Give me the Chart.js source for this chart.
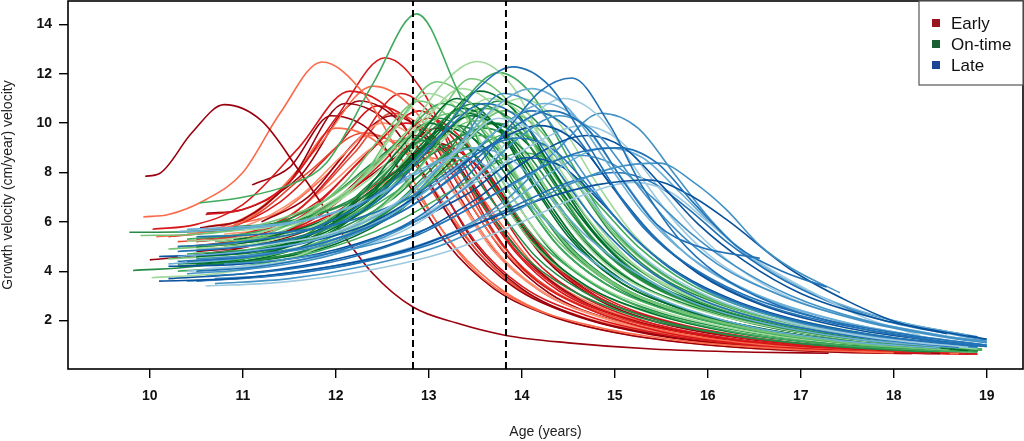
<!DOCTYPE html>
<html>
<head>
<meta charset="utf-8">
<script src="https://cdn.jsdelivr.net/npm/chart.js@4.4.1/dist/chart.umd.min.js"></script>
<style>
  html, body { margin: 0; padding: 0; background: #fff; }
  canvas { display: block; }
</style>
</head>
<body>
<canvas id="graph_ID" width="1024" height="441"></canvas>
<script>
// axis ticks and reference ages
var xTicks = [10, 11, 12, 13, 14, 15, 16, 17, 18, 19];
var yTicks = [2, 4, 6, 8, 10, 12, 14];
var dashedAges = [12.83, 13.83];
var legendLabels = ['Early', 'On-time', 'Late'];

// growth velocity curves, [age, velocity]
var earlyCurves = [
  [[9.95,7.85],[10.1,7.95],[10.45,9.6],[10.8,10.75],[11.2,10.1],[11.6,8.1],[12.0,5.9],[12.4,3.9],[12.83,2.55],[13.3,1.9],[13.83,1.4],[14.5,1.1],[15.4,0.85],[16.5,0.72],[17.3,0.68]],
  [[9.93,6.2],[10.2,6.3],[10.6,6.9],[11.0,8.0],[11.4,10.4],[11.85,12.48],[12.3,11.2],[12.7,8.6],[13.1,5.9],[13.5,4.0],[14.0,2.7],[14.8,1.75],[15.8,1.15],[17.0,0.82],[18.0,0.7]],
  [[10.6,6.3],[11.0,6.5],[11.5,7.6],[12.0,10.2],[12.53,12.65],[12.95,11.2],[13.3,8.4],[13.7,5.6],[14.1,3.8],[14.7,2.5],[15.5,1.55],[16.5,1.0],[17.5,0.78],[18.4,0.68]],
  [[10.54,5.76],[11.0,6.1],[11.5,7.6],[12.1,10.8],[12.6,9.9],[13.0,7.6],[13.4,5.2],[13.9,3.4],[14.5,2.3],[15.3,1.5],[16.3,1.0],[17.5,0.75],[18.5,0.67]],
  [[10.03,5.7],[10.5,5.9],[11.0,6.7],[11.6,9.0],[12.15,11.3],[12.65,10.3],[13.05,7.9],[13.5,5.2],[14.0,3.4],[14.7,2.2],[15.6,1.4],[16.6,0.95],[17.8,0.72],[18.6,0.66]],
  [[10.07,5.4],[10.6,5.6],[11.2,6.6],[11.8,9.0],[12.4,11.5],[12.85,10.5],[13.25,8.0],[13.7,5.3],[14.2,3.5],[14.9,2.2],[15.8,1.4],[16.9,0.92],[18.0,0.72],[18.7,0.66]],
  [[11.1,7.5],[11.5,8.2],[11.95,10.3],[12.4,9.6],[12.8,7.4],[13.2,5.1],[13.7,3.3],[14.3,2.2],[15.1,1.45],[16.2,0.95],[17.4,0.72],[18.2,0.67]],
  [[10.61,6.35],[11.0,6.5],[11.6,7.8],[12.25,10.9],[12.7,10.0],[13.1,7.6],[13.5,5.1],[14.0,3.3],[14.6,2.2],[15.5,1.4],[16.5,0.95],[17.6,0.74],[18.4,0.67]],
  [[10.5,5.3],[11.0,5.5],[11.6,6.5],[12.2,9.0],[12.7,11.2],[13.1,10.0],[13.5,7.4],[13.9,5.0],[14.4,3.3],[15.1,2.1],[16.0,1.35],[17.0,0.92],[18.0,0.72],[18.8,0.66]],
  [[10.5,5.6],[11.0,6.0],[11.5,7.6],[12.0,9.8],[12.45,9.2],[12.9,7.0],[13.3,4.9],[13.8,3.2],[14.4,2.1],[15.2,1.4],[16.3,0.92],[17.5,0.72],[18.2,0.67]],
  [[10.5,5.2],[11.1,5.5],[11.8,6.8],[12.4,9.0],[12.9,10.5],[13.3,9.2],[13.7,6.8],[14.1,4.6],[14.6,3.1],[15.3,2.0],[16.2,1.3],[17.3,0.88],[18.3,0.7],[18.9,0.65]],
  [[10.0,4.46],[10.6,4.7],[11.3,5.3],[12.0,6.9],[12.5,8.6],[12.85,9.5],[13.25,8.6],[13.65,6.4],[14.1,4.3],[14.6,2.9],[15.3,1.9],[16.3,1.2],[17.4,0.85],[18.5,0.68]],
  [[10.6,5.0],[11.2,5.3],[11.8,6.2],[12.5,8.4],[13.0,10.2],[13.4,9.2],[13.8,7.0],[14.2,4.8],[14.7,3.2],[15.4,2.1],[16.3,1.35],[17.4,0.9],[18.4,0.7],[18.9,0.65]],
  [[10.8,5.5],[11.3,5.8],[11.9,7.4],[12.6,9.3],[13.0,8.6],[13.4,6.5],[13.8,4.5],[14.3,3.0],[15.0,1.95],[15.9,1.3],[17.0,0.88],[18.0,0.7]],
  [[10.6,5.8],[11.1,6.2],[11.7,8.0],[12.3,9.6],[12.75,8.8],[13.15,6.6],[13.6,4.5],[14.1,3.0],[14.8,1.95],[15.7,1.3],[16.8,0.88],[17.9,0.7],[18.5,0.66]],
  [[10.8,5.4],[11.4,5.8],[12.0,6.9],[12.6,8.5],[13.1,9.8],[13.5,8.7],[13.9,6.5],[14.3,4.5],[14.8,3.0],[15.5,2.0],[16.4,1.3],[17.5,0.88],[18.5,0.7]],
  [[10.7,5.1],[11.3,5.4],[12.0,6.4],[12.7,8.2],[13.2,9.0],[13.6,8.0],[14.0,6.0],[14.4,4.2],[14.9,2.9],[15.6,1.95],[16.5,1.3],[17.6,0.88],[18.6,0.68]],
  [[10.4,5.5],[11.0,5.8],[11.6,7.0],[12.1,8.8],[12.5,10.0],[12.9,9.2],[13.3,7.0],[13.7,4.8],[14.2,3.2],[14.9,2.1],[15.8,1.4],[16.9,0.92],[18.0,0.72]],
  [[10.3,5.2],[10.9,5.4],[11.6,6.5],[12.2,8.8],[12.6,10.4],[13.0,9.6],[13.4,7.3],[13.8,5.0],[14.3,3.3],[15.0,2.15],[15.9,1.4],[17.0,0.92],[18.1,0.72],[18.8,0.66]],
  [[10.9,5.3],[11.5,5.6],[12.2,6.8],[12.7,8.0],[13.0,8.6],[13.4,7.8],[13.8,5.8],[14.2,4.0],[14.8,2.6],[15.6,1.7],[16.6,1.1],[17.8,0.78],[18.6,0.68]],
  [[11.2,6.0],[11.7,7.0],[12.2,9.2],[12.6,10.3],[13.0,9.4],[13.4,7.0],[13.8,4.8],[14.3,3.1],[15.0,2.0],[15.9,1.3],[17.0,0.88],[18.0,0.7]],
  [[10.2,5.4],[10.8,5.7],[11.4,6.8],[12.0,9.0],[12.45,10.7],[12.9,9.7],[13.3,7.2],[13.7,4.9],[14.2,3.2],[14.9,2.1],[15.8,1.38],[16.9,0.92],[18.0,0.72],[18.7,0.66]],
  [[10.4,5.0],[11.0,5.3],[11.7,6.4],[12.3,8.6],[12.75,10.0],[13.15,9.1],[13.55,6.8],[13.95,4.7],[14.4,3.2],[15.1,2.1],[16.0,1.4],[17.1,0.92],[18.2,0.72],[18.8,0.66]],
  [[10.9,5.9],[11.4,6.4],[11.9,7.9],[12.35,9.5],[12.75,8.9],[13.15,6.8],[13.55,4.7],[14.0,3.2],[14.7,2.1],[15.6,1.4],[16.7,0.92],[17.9,0.72]],
  [[10.5,4.8],[11.2,5.1],[11.9,6.0],[12.6,7.9],[13.05,9.2],[13.45,8.5],[13.85,6.5],[14.25,4.5],[14.75,3.0],[15.4,2.0],[16.3,1.32],[17.4,0.9],[18.5,0.7]]
];

var onTimeCurves = [
  [[10.54,6.77],[11.0,7.0],[11.5,7.5],[11.9,8.4],[12.4,11.6],[12.87,14.43],[13.3,11.4],[13.6,8.7],[14.0,6.0],[14.6,3.9],[15.3,2.5],[16.2,1.6],[17.3,1.05],[18.4,0.78],[18.9,0.72]],
  [[10.4,5.2],[11.0,5.4],[11.7,6.3],[12.3,7.8],[12.8,9.8],[13.15,11.6],[13.52,12.5],[13.9,11.5],[14.3,8.7],[14.7,6.2],[15.2,4.3],[15.9,2.9],[16.8,1.9],[17.8,1.25],[18.9,0.85]],
  [[10.3,5.0],[11.0,5.2],[11.7,6.1],[12.3,7.9],[12.7,10.2],[13.09,11.68],[13.5,10.6],[13.9,8.0],[14.3,5.6],[14.8,3.9],[15.5,2.6],[16.4,1.7],[17.5,1.1],[18.6,0.8]],
  [[10.5,4.6],[11.1,4.8],[11.8,5.6],[12.4,7.2],[12.9,9.5],[13.3,11.0],[13.7,10.0],[14.1,7.6],[14.5,5.4],[15.0,3.7],[15.7,2.5],[16.6,1.65],[17.7,1.1],[18.8,0.78]],
  [[10.3,5.6],[10.9,5.7],[11.6,6.1],[12.3,7.2],[12.9,9.3],[13.5,10.8],[13.9,10.0],[14.3,7.8],[14.7,5.6],[15.2,3.9],[15.9,2.6],[16.8,1.7],[17.9,1.1],[18.9,0.78]],
  [[10.6,4.4],[11.2,4.6],[11.9,5.3],[12.5,6.7],[13.0,8.7],[13.4,11.0],[13.75,12.05],[14.1,11.2],[14.5,8.6],[14.9,6.1],[15.4,4.2],[16.1,2.8],[17.0,1.8],[18.0,1.15],[18.95,0.8]],
  [[9.9,5.45],[10.5,5.5],[11.2,5.9],[11.9,6.9],[12.5,8.6],[13.25,10.4],[13.65,9.5],[14.05,7.2],[14.5,5.0],[15.0,3.5],[15.7,2.4],[16.6,1.6],[17.7,1.08],[18.7,0.78]],
  [[10.3,4.3],[11.0,4.5],[11.7,5.4],[12.3,7.2],[12.65,8.8],[13.0,10.0],[13.4,9.1],[13.8,6.9],[14.2,4.9],[14.7,3.4],[15.4,2.3],[16.3,1.5],[17.4,1.02],[18.5,0.75]],
  [[9.78,5.58],[10.4,5.6],[11.1,5.8],[11.8,6.3],[12.5,7.4],[13.1,8.9],[13.6,9.8],[14.0,9.0],[14.4,7.0],[14.8,5.1],[15.3,3.6],[16.0,2.5],[16.9,1.7],[18.0,1.1],[18.9,0.8]],
  [[10.5,4.9],[11.1,5.1],[11.8,5.9],[12.4,7.5],[12.9,9.8],[13.35,11.4],[13.75,10.5],[14.15,8.0],[14.55,5.7],[15.0,4.0],[15.7,2.7],[16.6,1.8],[17.7,1.15],[18.8,0.8]],
  [[10.6,4.7],[11.2,4.9],[11.9,5.6],[12.5,7.0],[13.0,8.9],[13.45,10.3],[13.85,9.5],[14.25,7.3],[14.65,5.3],[15.1,3.8],[15.8,2.6],[16.7,1.7],[17.8,1.12],[18.9,0.78]],
  [[10.4,5.3],[11.0,5.5],[11.7,6.2],[12.3,7.8],[12.75,9.6],[13.15,10.8],[13.55,9.8],[13.95,7.4],[14.35,5.2],[14.85,3.6],[15.5,2.5],[16.4,1.65],[17.5,1.08],[18.6,0.78]],
  [[10.7,4.5],[11.3,4.7],[12.0,5.3],[12.7,6.6],[13.3,8.8],[13.8,10.5],[14.2,9.7],[14.6,7.5],[15.0,5.5],[15.5,3.9],[16.2,2.6],[17.1,1.75],[18.1,1.15],[18.95,0.82]],
  [[9.82,4.03],[10.5,4.2],[11.2,4.7],[11.9,6.0],[12.5,8.0],[12.95,9.3],[13.35,8.5],[13.75,6.5],[14.15,4.6],[14.65,3.2],[15.3,2.2],[16.2,1.45],[17.3,0.98],[18.4,0.74]],
  [[10.02,3.74],[10.7,3.9],[11.4,4.4],[12.1,5.5],[12.7,7.3],[13.2,9.5],[13.65,11.0],[14.05,10.2],[14.45,7.9],[14.85,5.7],[15.3,4.0],[16.0,2.7],[16.9,1.8],[17.9,1.18],[18.9,0.82]],
  [[10.5,5.0],[11.1,5.2],[11.8,5.8],[12.4,7.1],[13.0,9.3],[13.55,11.3],[13.95,10.4],[14.35,8.0],[14.75,5.7],[15.2,4.0],[15.9,2.7],[16.8,1.75],[17.9,1.12],[18.9,0.78]],
  [[10.8,4.8],[11.4,5.0],[12.1,5.7],[12.8,7.0],[13.4,8.7],[13.9,9.6],[14.3,8.9],[14.7,7.0],[15.1,5.2],[15.6,3.7],[16.3,2.5],[17.2,1.7],[18.2,1.12],[18.95,0.85]],
  [[10.2,4.9],[10.8,5.1],[11.5,5.9],[12.1,7.6],[12.5,9.5],[12.9,10.9],[13.3,9.9],[13.7,7.4],[14.1,5.2],[14.6,3.6],[15.3,2.4],[16.2,1.6],[17.3,1.05],[18.4,0.76]],
  [[10.4,4.2],[11.1,4.4],[11.8,5.0],[12.5,6.3],[13.1,8.4],[13.75,10.9],[14.15,10.1],[14.55,7.8],[14.95,5.6],[15.4,4.0],[16.1,2.7],[17.0,1.8],[18.0,1.18],[18.9,0.82]],
  [[10.9,5.3],[11.4,5.5],[12.0,6.3],[12.6,7.9],[13.2,9.8],[13.6,9.0],[14.0,7.0],[14.4,5.0],[14.9,3.5],[15.6,2.4],[16.5,1.6],[17.6,1.06],[18.7,0.76]],
  [[10.6,5.4],[11.2,5.6],[11.9,6.5],[12.4,8.3],[12.7,10.1],[13.0,11.2],[13.4,10.2],[13.8,7.6],[14.2,5.4],[14.7,3.7],[15.4,2.5],[16.3,1.65],[17.4,1.08],[18.5,0.78]],
  [[10.3,4.0],[11.0,4.2],[11.8,4.8],[12.6,5.9],[13.4,7.6],[14.0,8.8],[14.45,8.2],[14.85,6.6],[15.25,5.0],[15.8,3.5],[16.5,2.4],[17.4,1.6],[18.4,1.05],[18.95,0.85]],
  [[10.5,4.6],[11.2,4.8],[11.9,5.5],[12.6,6.9],[13.0,8.2],[13.4,9.0],[13.8,8.3],[14.2,6.4],[14.6,4.7],[15.1,3.3],[15.8,2.3],[16.7,1.55],[17.8,1.02],[18.8,0.75]],
  [[10.6,4.3],[11.3,4.5],[12.0,5.1],[12.7,6.5],[13.2,8.3],[13.65,10.0],[14.05,9.2],[14.45,7.1],[14.85,5.2],[15.3,3.7],[16.0,2.5],[16.9,1.65],[18.0,1.08],[18.9,0.78]],
  [[10.7,5.2],[11.3,5.4],[12.0,6.2],[12.6,7.9],[13.05,10.0],[13.45,11.8],[13.85,10.9],[14.25,8.3],[14.65,5.9],[15.1,4.1],[15.8,2.7],[16.7,1.8],[17.8,1.15],[18.85,0.8]],
  [[10.4,4.4],[11.0,4.6],[11.7,5.3],[12.3,6.9],[12.75,8.9],[13.1,10.2],[13.5,9.3],[13.9,7.0],[14.3,4.9],[14.8,3.4],[15.5,2.3],[16.4,1.55],[17.5,1.02],[18.6,0.75]],
  [[10.3,4.2],[11.0,4.4],[11.7,5.1],[12.4,6.8],[12.9,8.9],[13.35,10.6],[13.75,9.8],[14.15,7.4],[14.55,5.3],[15.0,3.7],[15.7,2.5],[16.6,1.65],[17.7,1.08],[18.8,0.77]],
  [[10.8,5.0],[11.4,5.2],[12.1,6.0],[12.8,7.6],[13.55,9.5],[13.95,8.8],[14.35,6.9],[14.75,5.0],[15.2,3.6],[15.9,2.5],[16.8,1.65],[17.9,1.08],[18.9,0.78]],
  [[10.5,4.5],[11.2,4.7],[11.9,5.3],[12.6,6.6],[13.2,8.5],[13.6,10.2],[14.0,11.0],[14.4,10.0],[14.8,7.6],[15.2,5.5],[15.7,3.9],[16.4,2.6],[17.3,1.75],[18.3,1.15],[18.95,0.85]],
  [[10.9,5.8],[11.4,6.0],[11.9,6.9],[12.4,8.4],[12.8,9.4],[13.2,8.7],[13.6,6.6],[14.0,4.7],[14.5,3.3],[15.2,2.2],[16.1,1.5],[17.2,1.0],[18.3,0.75]],
  [[10.6,4.9],[11.2,5.1],[11.9,5.8],[12.5,7.3],[13.0,9.2],[13.4,10.4],[13.8,9.6],[14.2,7.3],[14.6,5.2],[15.1,3.6],[15.8,2.4],[16.7,1.6],[17.8,1.05],[18.9,0.76]],
  [[10.4,4.7],[11.1,4.9],[11.8,5.6],[12.5,7.1],[13.1,9.4],[13.6,10.6],[14.0,9.8],[14.4,7.6],[14.8,5.5],[15.3,3.8],[16.0,2.6],[16.9,1.7],[18.0,1.1],[18.95,0.8]],
  [[10.7,5.1],[11.3,5.3],[12.0,6.1],[12.6,7.7],[13.0,9.1],[13.3,9.9],[13.7,9.1],[14.1,6.9],[14.5,4.9],[15.0,3.4],[15.7,2.3],[16.6,1.55],[17.7,1.02],[18.8,0.75]],
  [[10.2,4.5],[10.9,4.7],[11.6,5.3],[12.3,6.6],[12.9,8.6],[13.5,10.1],[13.9,9.4],[14.3,7.2],[14.7,5.2],[15.2,3.6],[15.9,2.5],[16.8,1.65],[17.9,1.08],[18.9,0.78]],
  [[10.8,5.6],[11.3,5.8],[11.9,6.6],[12.5,8.2],[12.9,10.0],[13.2,10.9],[13.6,10.0],[14.0,7.6],[14.4,5.4],[14.9,3.7],[15.6,2.5],[16.5,1.65],[17.6,1.06],[18.7,0.77]],
  [[10.5,4.3],[11.2,4.5],[12.0,5.2],[12.7,6.8],[13.3,8.9],[13.7,10.0],[14.1,9.3],[14.5,7.2],[14.9,5.2],[15.4,3.7],[16.1,2.5],[17.0,1.7],[18.0,1.12],[18.9,0.8]]
];

var lateCurves = [
  [[10.3,4.8],[11.0,5.0],[11.8,5.6],[12.5,7.0],[13.1,9.4],[13.5,11.3],[13.9,12.28],[14.3,11.5],[14.7,9.2],[15.1,6.8],[15.6,4.8],[16.3,3.2],[17.2,2.1],[18.2,1.4],[19.0,1.0]],
  [[10.5,4.0],[11.2,4.2],[12.0,4.8],[12.8,6.0],[13.4,7.8],[13.9,10.0],[14.2,11.3],[14.54,11.83],[14.95,9.9],[15.27,7.6],[15.67,5.4],[16.1,3.9],[16.7,2.7],[17.5,1.8],[18.4,1.2],[19.0,0.95]],
  [[10.6,3.8],[11.3,4.0],[12.1,4.5],[12.9,5.5],[13.6,6.9],[14.2,8.2],[14.65,8.85],[15.05,9.0],[15.45,8.4],[15.84,6.8],[16.3,5.05],[16.8,4.0],[17.28,3.36]],
  [[10.7,3.5],[11.5,3.7],[12.3,4.2],[13.1,5.0],[13.8,6.2],[14.5,7.5],[15.0,8.2],[15.48,8.38],[15.85,7.6],[16.2,6.5],[16.56,5.05],[16.91,4.1],[17.42,3.13]],
  [[10.1,3.6],[10.9,3.7],[11.8,4.1],[12.7,4.8],[13.5,5.9],[14.2,6.9],[14.8,7.5],[15.37,7.7],[15.8,7.1],[16.2,6.1],[16.9,4.05],[17.5,2.8],[18.06,1.9],[18.57,1.47]],
  [[10.4,4.4],[11.1,4.6],[11.9,5.2],[12.7,6.4],[13.4,8.2],[13.9,9.8],[14.3,10.5],[14.7,9.8],[15.1,7.6],[15.45,5.9],[15.9,5.0],[16.56,4.53]],
  [[10.3,4.6],[11.0,4.8],[11.8,5.3],[12.6,6.6],[13.2,8.6],[13.7,10.6],[14.1,11.4],[14.5,10.6],[14.9,8.5],[15.3,6.4],[15.8,4.6],[16.5,3.1],[17.4,2.0],[18.3,1.35],[19.0,1.0]],
  [[10.4,3.9],[11.1,4.1],[11.9,4.6],[12.7,5.7],[13.4,7.4],[14.0,9.5],[14.4,10.3],[14.8,9.6],[15.2,7.7],[15.6,5.9],[16.1,4.3],[16.8,3.0],[17.7,1.95],[18.6,1.3],[19.0,1.1]],
  [[10.6,4.9],[11.3,5.1],[12.0,5.6],[12.7,6.9],[13.3,8.9],[13.75,10.2],[14.15,9.6],[14.55,7.8],[14.95,5.9],[15.4,4.3],[16.0,3.0],[16.8,2.0],[17.8,1.3],[18.8,0.92]],
  [[10.2,3.7],[11.0,3.9],[11.9,4.4],[12.8,5.4],[13.5,6.9],[14.1,8.6],[14.7,9.5],[15.1,9.0],[15.5,7.5],[15.9,5.9],[16.4,4.4],[17.0,3.1],[17.8,2.1],[18.6,1.5],[19.0,1.25]],
  [[10.2,4.3],[10.9,4.5],[11.7,5.0],[12.5,6.1],[13.2,7.9],[13.8,9.9],[14.25,10.8],[14.65,10.0],[15.05,7.9],[15.45,5.9],[15.9,4.3],[16.6,2.9],[17.5,1.9],[18.4,1.3],[19.0,1.0]],
  [[10.5,5.4],[11.2,5.5],[12.0,5.9],[12.8,7.0],[13.4,8.5],[13.95,9.4],[14.35,8.9],[14.75,7.3],[15.15,5.6],[15.6,4.1],[16.2,2.9],[17.0,1.95],[18.0,1.3],[18.9,0.95]],
  [[10.8,4.3],[11.5,4.5],[12.3,5.0],[13.1,5.9],[13.8,7.3],[14.6,8.7],[15.0,8.3],[15.4,7.0],[15.8,5.6],[16.3,4.2],[16.9,3.0],[17.7,2.0],[18.5,1.4],[19.0,1.15]],
  [[10.6,3.4],[11.4,3.55],[12.3,4.0],[13.2,4.8],[14.0,6.0],[14.6,7.0],[15.2,7.6],[15.6,7.2],[16.0,6.0],[16.5,4.5],[17.1,3.2],[17.7,2.1],[18.28,1.4]],
  [[10.3,5.0],[11.0,5.2],[11.8,5.8],[12.5,7.3],[13.1,9.4],[13.6,10.8],[14.0,10.1],[14.4,8.0],[14.8,6.0],[15.3,4.2],[15.9,2.9],[16.7,1.95],[17.7,1.3],[18.7,0.92]],
  [[10.4,3.6],[11.2,3.8],[12.1,4.3],[13.0,5.2],[13.8,6.6],[14.4,8.2],[14.9,9.0],[15.3,8.6],[15.7,7.2],[16.1,5.7],[16.6,4.2],[17.2,3.0],[18.0,2.0],[18.8,1.4]],
  [[10.1,4.6],[10.8,4.7],[11.6,5.1],[12.4,6.0],[13.1,7.6],[13.7,9.2],[14.2,9.9],[14.6,9.2],[15.0,7.3],[15.4,5.5],[15.9,3.9],[16.6,2.6],[17.5,1.7],[18.5,1.15],[19.0,0.95]],
  [[10.5,4.5],[11.2,4.7],[12.0,5.2],[12.7,6.6],[13.3,9.0],[13.8,11.2],[14.2,10.5],[14.6,8.3],[15.0,6.2],[15.5,4.4],[16.1,3.0],[16.9,2.0],[17.9,1.3],[18.9,0.9]],
  [[10.6,4.1],[11.3,4.3],[12.1,4.8],[12.9,6.0],[13.6,8.2],[14.05,10.1],[14.45,11.0],[14.85,10.2],[15.25,8.0],[15.65,6.0],[16.1,4.4],[16.8,3.0],[17.7,2.0],[18.6,1.35],[19.0,1.15]],
  [[10.5,3.6],[11.3,3.8],[12.2,4.3],[13.1,5.2],[13.9,6.6],[14.5,7.6],[15.0,8.0],[15.4,7.6],[15.8,6.5],[16.2,5.2],[16.7,3.9],[17.3,2.8],[18.1,1.9],[18.9,1.35]],
  [[10.3,5.6],[10.9,5.7],[11.6,6.0],[12.3,6.8],[12.9,8.0],[13.5,9.0],[13.9,8.5],[14.3,7.0],[14.7,5.4],[15.2,4.0],[15.8,2.8],[16.6,1.9],[17.6,1.25],[18.7,0.9]],
  [[10.2,4.2],[11.0,4.3],[11.8,4.7],[12.6,5.6],[13.4,7.1],[14.05,8.6],[14.45,8.2],[14.85,6.8],[15.25,5.2],[15.7,3.9],[16.3,2.8],[17.1,1.9],[18.0,1.3],[18.9,0.95]],
  [[10.7,3.7],[11.5,3.9],[12.3,4.4],[13.1,5.3],[13.8,6.8],[14.4,9.0],[14.85,10.4],[15.25,9.8],[15.65,7.9],[16.05,6.0],[16.5,4.4],[17.1,3.1],[17.9,2.0],[18.7,1.4],[19.0,1.2]],
  [[10.4,4.0],[11.1,4.2],[11.9,4.7],[12.7,5.8],[13.5,7.6],[14.2,9.3],[14.65,9.9],[15.05,9.3],[15.45,7.5],[15.85,5.7],[16.3,4.2],[16.9,2.9],[17.8,1.9],[18.7,1.3],[19.0,1.15]],
  [[10.4,5.7],[11.0,5.8],[11.7,6.1],[12.4,7.0],[12.85,8.0],[13.25,8.6],[13.65,8.2],[14.05,6.8],[14.5,5.2],[15.0,3.8],[15.6,2.7],[16.4,1.8],[17.4,1.2],[18.5,0.88]],
  [[10.3,4.4],[11.0,4.6],[11.8,5.1],[12.6,6.2],[13.3,8.0],[13.7,9.6],[14.1,10.5],[14.5,9.8],[14.9,7.8],[15.3,5.8],[15.8,4.2],[16.5,2.8],[17.4,1.85],[18.4,1.25],[19.0,1.0]]
];

// colour shade for each curve (index into its group's palette)
var earlyShade  = [0,3,1,0,1,3,0,0,1,3,1,0,1,4,2,0,1,4,2,3,0,1,1,3,0];
var onTimeShade = [2,4,3,0,1,2,3,0,1,4,0,2,3,1,4,0,2,3,1,0,4,2,1,0,3,1,0,2,4,1,0,2,1,3,4,1];
var lateShade   = [1,1,1,2,0,1,3,2,4,0,3,1,2,4,1,3,0,2,4,1,3,0,2,4,3,1];

var earlyPalette  = ['#99000d', '#d7191c', '#e34a33', '#fb6a4a', '#fc9272'];
var onTimePalette = ['#006d2c', '#238b45', '#41ab5d', '#74c476', '#a1d99b'];
var latePalette   = ['#08519c', '#2171b5', '#4292c6', '#6baed6', '#9ecae1'];
var legendColours = ['#99121c', '#1a5e34', '#1c4595'];

var X_MIN = 9.12, X_MAX = 19.39, Y_MIN = 0.04, Y_MAX = 14.95;

function toPoints(curve) {
  return curve.map(function (p) { return { x: p[0], y: p[1] }; });
}

function curveSet(curve, colour, order) {
  return {
    data: toPoints(curve),
    borderColor: colour,
    backgroundColor: colour,
    borderWidth: 1.6,
    pointRadius: 0,
    fill: false,
    cubicInterpolationMode: 'monotone',
    order: order
  };
}

var datasets = [];
earlyCurves.forEach(function (c, i) { datasets.push(curveSet(c, earlyPalette[earlyShade[i]], 3)); });
onTimeCurves.forEach(function (c, i) { datasets.push(curveSet(c, onTimePalette[onTimeShade[i]], 2)); });
lateCurves.forEach(function (c, i) { datasets.push(curveSet(c, latePalette[lateShade[i]], 1)); });
dashedAges.forEach(function (a) {
  datasets.push({
    data: [{ x: a, y: Y_MIN }, { x: a, y: Y_MAX }],
    borderColor: '#000',
    borderWidth: 2,
    borderDash: [7, 4],
    pointRadius: 0,
    fill: false,
    order: 0
  });
});

// box round the plot and the legend in the top right corner
var framePlugin = {
  id: 'frame',
  afterDraw: function (chart) {
    var ctx = chart.ctx, a = chart.chartArea;
    ctx.save();
    ctx.strokeStyle = '#000';
    ctx.lineWidth = 1.6;
    ctx.strokeRect(a.left, a.top, a.right - a.left, a.bottom - a.top);

    var bx = 919, by = a.top, bw = a.right - bx, bh = 84;
    ctx.fillStyle = '#fff';
    ctx.fillRect(bx, by, bw, bh);
    ctx.strokeStyle = '#555';
    ctx.lineWidth = 1.2;
    ctx.strokeRect(bx, by, bw, bh);
    ctx.font = '17px "Liberation Sans", Arial, sans-serif';
    ctx.textBaseline = 'middle';
    legendLabels.forEach(function (lab, i) {
      var cy = 23 + i * 21;
      ctx.fillStyle = legendColours[i];
      ctx.fillRect(932, cy - 4, 8, 8);
      ctx.fillStyle = '#111';
      ctx.fillText(lab, 951, cy + 1);
    });
    ctx.restore();
  }
};

var tickFont = { family: '"Liberation Sans", Arial, sans-serif', size: 14, weight: 'bold' };
var titleFont = { family: '"Liberation Sans", Arial, sans-serif', size: 14 };

new Chart(document.getElementById('graph_ID').getContext('2d'), {
  type: 'line',
  data: { datasets: datasets },
  options: {
    responsive: false,
    animation: false,
    events: [],
    layout: { padding: { top: 1, right: 1, left: 0, bottom: 0 } },
    plugins: {
      legend: { display: false },
      tooltip: { enabled: false }
    },
    scales: {
      x: {
        type: 'linear',
        min: X_MIN,
        max: X_MAX,
        afterBuildTicks: function (s) { s.ticks = xTicks.map(function (v) { return { value: v }; }); },
        afterFit: function (s) { s.height = 72; s.paddingLeft = 0; s.paddingRight = 0; },
        border: { display: false },
        grid: { drawOnChartArea: false, drawTicks: true, tickLength: 9, color: '#000', lineWidth: 1.4 },
        ticks: { font: tickFont, color: '#111', padding: 10, maxRotation: 0 },
        title: { display: true, text: 'Age (years)', font: titleFont, color: '#222', padding: { top: 0, bottom: 0 } }
      },
      y: {
        type: 'linear',
        min: Y_MIN,
        max: Y_MAX,
        afterBuildTicks: function (s) { s.ticks = yTicks.map(function (v) { return { value: v }; }); },
        afterFit: function (s) { s.width = 68; s.paddingTop = 0; s.paddingBottom = 0; },
        border: { display: false },
        grid: { drawOnChartArea: false, drawTicks: true, tickLength: 9, color: '#000', lineWidth: 1.4 },
        ticks: { font: tickFont, color: '#111', padding: 7 },
        title: { display: true, text: 'Growth velocity (cm/year) velocity', font: titleFont, color: '#222', padding: { top: 0, bottom: 0 } }
      }
    }
  },
  plugins: [framePlugin]
});
</script>
</body>
</html>
